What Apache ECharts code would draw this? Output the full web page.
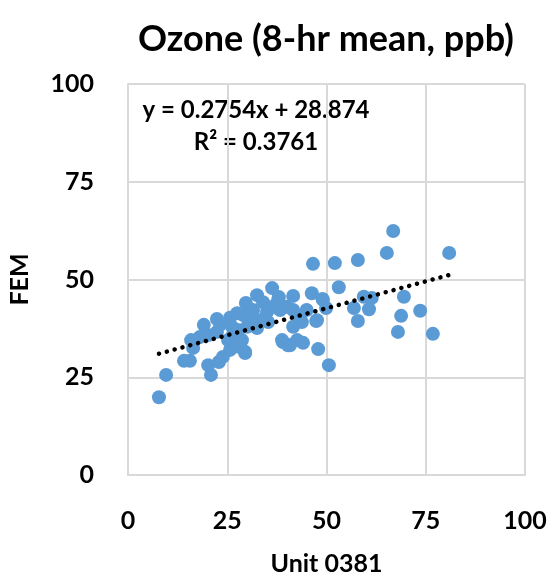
<!DOCTYPE html>
<html>
<head>
<meta charset="utf-8">
<script src="https://cdn.jsdelivr.net/npm/echarts@6/dist/echarts.min.js"></script>
<style>
  html, body { margin: 0; padding: 0; background: #fff; }
  #chart { width: 553px; height: 576px; }
</style>
</head>
<body>
<div id="chart"></div>
<script>
// Unit 0381 readings (x) vs FEM readings (y), ppb
var unitX = [
  7.8, 9.6, 14.1, 15.6, 15.9, 16.4, 18.1, 19.1, 20.2, 20.9,
  22.4, 22.4, 22.9, 23.9, 25.7, 26.2, 25.2, 25.7, 27.5, 29.5,
  28.2, 29.7, 32.5, 36.3, 38.0, 41.6, 46.3, 46.6, 52.1, 31.5,
  34.0, 35.0, 36.5, 38.3, 40.0, 41.6, 43.3, 45.0, 47.6, 49.1,
  43.8, 41.6, 38.8, 40.3, 42.6, 44.1, 47.9, 50.6, 27.5, 29.0,
  30.7, 33.2, 35.3, 32.5, 30.0, 27.7, 26.4, 27.0, 23.2, 20.2,
  39.0, 40.8, 29.5, 28.7, 37.8, 66.8, 65.2, 80.9, 57.9, 53.1,
  49.0, 49.9, 59.4, 61.4, 56.9, 60.7, 69.5, 57.9, 68.8, 73.6,
  68.0, 76.8, 47.4, 43.3
];
var femY = [
  19.9, 25.6, 29.2, 29.2, 34.5, 32.5, 35.3, 38.4, 28.1, 25.6,
  39.9, 36.6, 28.9, 30.2, 40.2, 37.9, 34.5, 32.0, 34.5, 31.2,
  32.7, 44.0, 46.0, 47.8, 45.5, 45.8, 46.5, 54.0, 54.2, 42.2,
  44.2, 41.7, 43.0, 42.2, 43.0, 42.2, 40.4, 42.2, 39.6, 44.8,
  39.1, 37.9, 34.5, 33.2, 34.5, 33.8, 32.2, 28.1, 41.4, 40.9,
  40.4, 39.6, 39.1, 37.6, 37.9, 37.1, 35.8, 33.8, 38.4, 35.8,
  34.0, 33.2, 31.5, 34.5, 44.8, 62.4, 56.8, 56.8, 55.0, 48.0,
  45.0, 42.7, 45.6, 45.3, 42.7, 42.4, 45.6, 39.4, 40.7, 42.0,
  36.6, 36.1, 39.4, 39.6
];
var axisTicks = [0, 25, 50, 75, 100];
var slope = 0.2754;
var intercept = 28.874;
var rSquared = 0.3761;

var points = unitX.map(function (x, i) { return [x, femY[i]]; });
var xMin = Math.min.apply(null, unitX);
var xMax = Math.max.apply(null, unitX);
var trend = [
  [xMin, slope * xMin + intercept],
  [xMax, slope * xMax + intercept]
];

var font = 'Lato, "Open Sans", sans-serif';
var chart = echarts.init(document.getElementById('chart'));
chart.setOption({
  animation: false,
  backgroundColor: '#fff',
  title: {
    text: 'Ozone (8-hr mean, ppb)',
    left: 321,
    top: 16,
    textAlign: 'center',
    textStyle: { fontFamily: font, fontWeight: 'bold', fontSize: 36, color: '#000' }
  },
  grid: { left: 128, right: 28, top: 84, bottom: 101, outerBoundsMode: 'none' },
  xAxis: {
    type: 'value',
    min: axisTicks[0],
    max: axisTicks[axisTicks.length - 1],
    interval: 25,
    name: 'Unit 0381',
    nameLocation: 'middle',
    nameGap: 76,
    nameTextStyle: { fontFamily: font, fontWeight: 'bold', fontSize: 25, color: '#000' },
    axisLine: { show: true, lineStyle: { color: '#d9d9d9', width: 2 } },
    axisTick: { show: false },
    splitLine: { show: true, lineStyle: { color: '#d9d9d9', width: 2 } },
    axisLabel: { margin: 33, fontFamily: font, fontWeight: 'bold', fontSize: 25, color: '#000' }
  },
  yAxis: {
    type: 'value',
    min: axisTicks[0],
    max: axisTicks[axisTicks.length - 1],
    interval: 25,
    name: 'FEM',
    nameLocation: 'middle',
    nameGap: 96,
    nameTextStyle: { fontFamily: font, fontWeight: 'bold', fontSize: 25, color: '#000' },
    axisLine: { show: true, lineStyle: { color: '#d9d9d9', width: 2 } },
    axisTick: { show: false },
    splitLine: { show: true, lineStyle: { color: '#d9d9d9', width: 2 } },
    axisLabel: { margin: 34, fontFamily: font, fontWeight: 'bold', fontSize: 25, color: '#000' }
  },
  graphic: [
    {
      type: 'text', x: 256, y: 110,
      style: {
        text: 'y = ' + slope + 'x + ' + intercept,
        font: 'bold 24px ' + font, fill: '#000',
        textAlign: 'center', textVerticalAlign: 'middle'
      }
    },
    {
      type: 'text', x: 256, y: 142,
      style: {
        text: 'R² = ' + rSquared,
        font: 'bold 24px ' + font, fill: '#000',
        textAlign: 'center', textVerticalAlign: 'middle'
      }
    }
  ],
  series: [
    {
      type: 'scatter',
      data: points,
      symbolSize: 14,
      itemStyle: { color: '#5b9bd5', opacity: 1 },
      z: 2
    },
    {
      type: 'line',
      data: trend,
      symbol: 'none',
      lineStyle: { color: '#000', width: 4.5, type: [0.1, 8], cap: 'round' },
      z: 3
    }
  ]
});
</script>
</body>
</html>
